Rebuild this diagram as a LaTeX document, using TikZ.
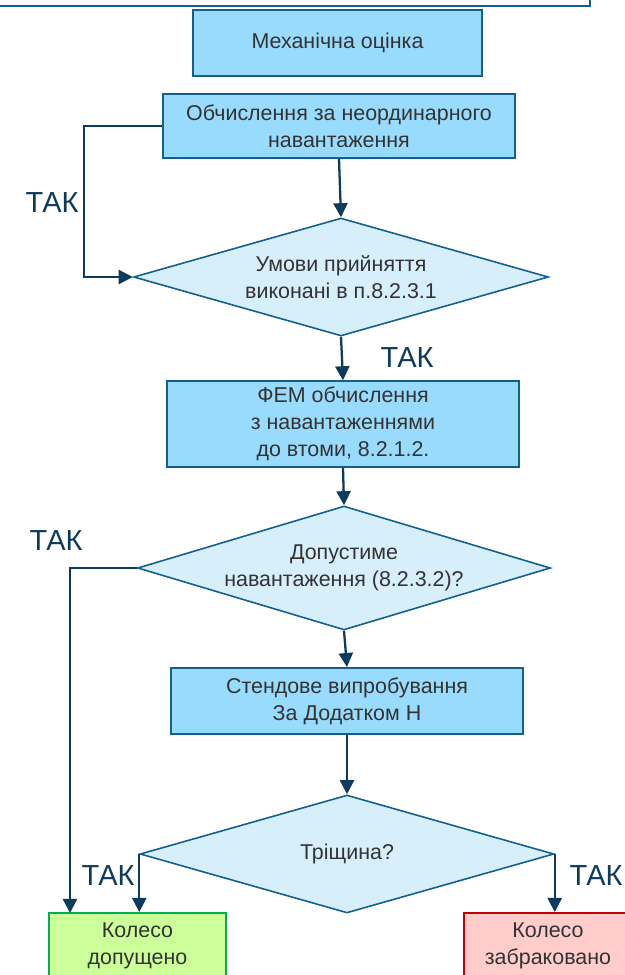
\documentclass[tikz,border=0pt]{standalone}
\usepackage{fontspec}
\setmainfont{Liberation Sans}
\usetikzlibrary{shapes.geometric,arrows.meta}
\definecolor{boxblue}{HTML}{99DBFC}
\definecolor{diablue}{HTML}{D7EEFB}
\definecolor{edgeblue}{HTML}{13608F}
\definecolor{arrowblue}{HTML}{0D3B5E}
\definecolor{txtgrey}{HTML}{333333}
\definecolor{okfill}{HTML}{CCFF99}
\definecolor{okedge}{HTML}{00B050}
\definecolor{rejfill}{HTML}{FFCCCC}
\definecolor{rejedge}{HTML}{C00000}

\begin{document}
\begin{tikzpicture}[
            x = 0.02cm, y = -0.02cm,
            every node/.style = {font = \fontsize{12.2}{15.3}\selectfont, text = txtgrey, align = center},
            box/.style = {draw = edgeblue, fill = boxblue, line width = 1.1pt, minimum width = 7.04cm, minimum height = 1.32cm},
            decision/.style = {diamond, draw = edgeblue, fill = diablue, line width = 0.9pt, aspect = 3.5, inner sep = 0pt, minimum width = 8.3cm, minimum height = 2.36cm},
            endbox/.style = {line width = 1.1pt, minimum height = 1.32cm},
            yes/.style = {text = arrowblue, font = \fontsize{16.5}{18}\selectfont},
            flow/.style = {draw = arrowblue, line width = 1.3pt, -{Triangle[length = 8pt, width = 8pt]}}
            ]
            \useasboundingbox (0, 0) rectangle (625, 975);

            \node[draw = edgeblue, fill = white, line width = 1.1pt, minimum width = 12.22cm, minimum height = 1.32cm] (prev) at (285, -27) {};
            \node[box, minimum width = 5.78cm] (mech) at (337.5, 43) {Механічна оцінка};
            \node[box, minimum height = 1.28cm] (calc) at (339, 126) {Обчислення за неординарного\\навантаження};
            \node[decision] (cond) at (341, 277) {Умови прийняття\\виконані в п.8.2.3.1};
            \node[box, minimum height = 1.52cm] (fem) at (343, 424) {ФЕМ обчислення\\з навантаженнями\\до втоми, 8.2.1.2.};
            \node[decision, minimum width = 8.26cm, minimum height = 2.48cm] (load) at (344, 568) {Допустиме\\навантаження (8.2.3.2)?};
            \node[box] (bench) at (347, 701) {Стендове випробування\\За Додатком Н};
            \node[decision, minimum width = 8.28cm] (crack) at (347, 854) {Тріщина?};
            \node[endbox, draw = okedge, fill = okfill, minimum width = 3.54cm] (ok) at (137.5, 946) {Колесо\\допущено};
            \node[endbox, draw = rejedge, fill = rejfill, minimum width = 3.36cm] (rej) at (548, 946) {Колесо\\забраковано};

            \node[yes] (yes1) at (52, 203) {ТАК};
            \node[yes] (yes2) at (407, 358) {ТАК};
            \node[yes] (yes3) at (56, 541) {ТАК};
            \node[yes] (yes4) at (108, 876) {ТАК};
            \node[yes] (yes5) at (596, 876) {ТАК};

            \coordinate (okin) at (70, 913);
            \draw[flow] (calc.south) -- (cond.north);
            \draw[flow] (calc.west) -- ++(-78, 0) |- (cond.west);
            \draw[flow] (cond.south) -- (fem.north);
            \draw[flow] (fem.south) -- (load.north);
            \draw[flow] (load.west) -| (okin);
            \draw[flow] (load.south) -- (bench.north);
            \draw[flow] (bench.south) -- (crack.north);
            \draw[flow] (crack.west) -- (crack.west |- ok.north);
            \draw[flow] (crack.east) -- (crack.east |- rej.north);
          \end{tikzpicture}
\end{document}
